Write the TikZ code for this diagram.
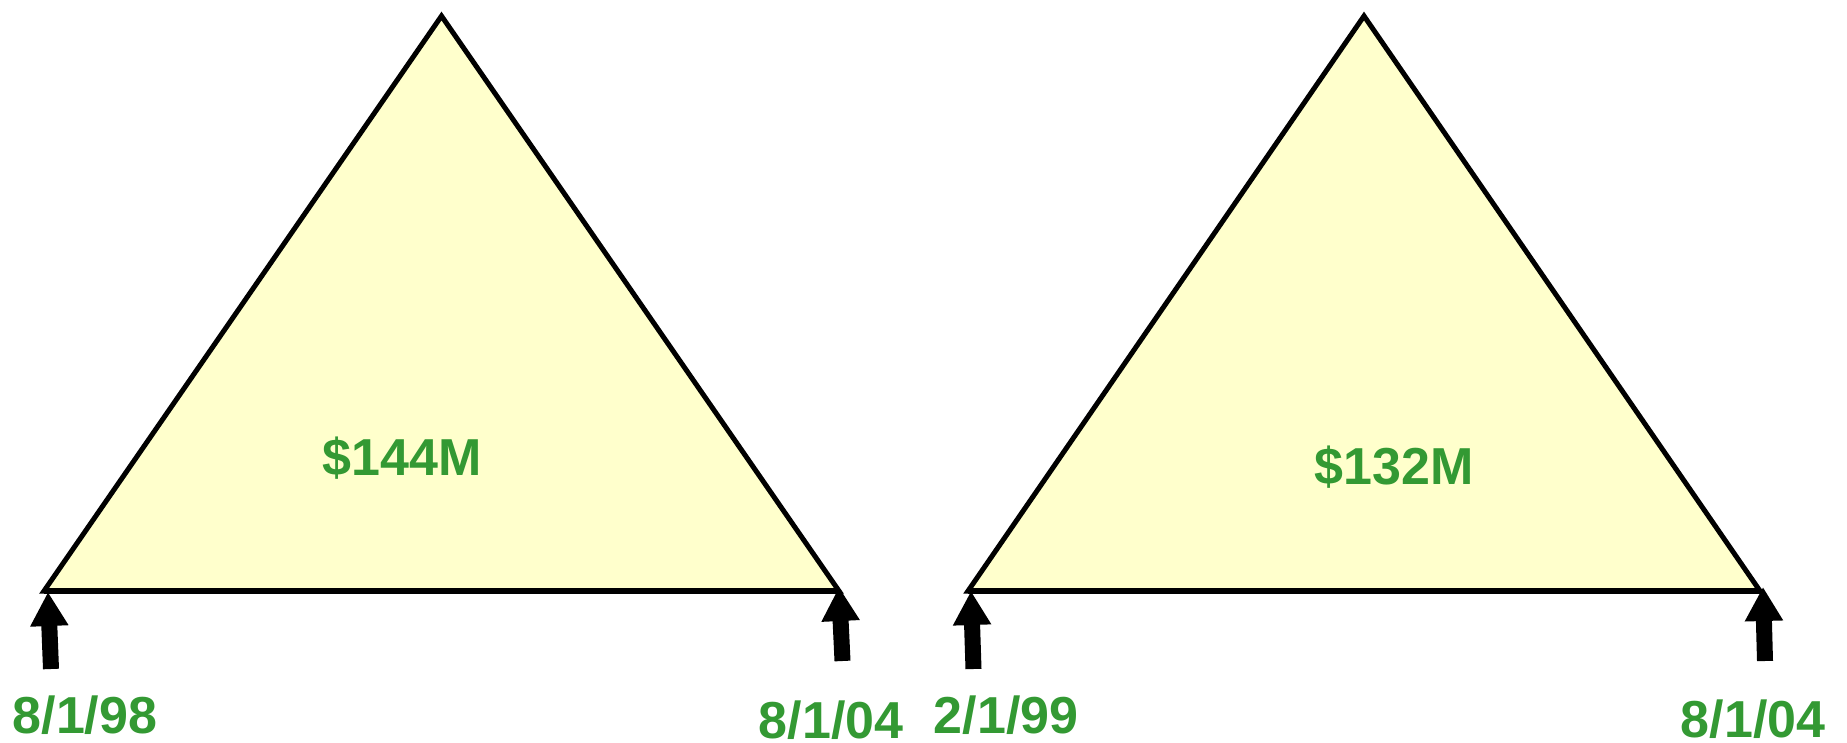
\documentclass[tikz,border=0pt]{standalone}
\usepackage{fontspec}
\setmainfont{Liberation Sans}
\usetikzlibrary{arrows.meta}
\definecolor{trifill}{HTML}{FFFFCC}
\definecolor{grn}{HTML}{339933}
\begin{document}
\begin{tikzpicture}[x=1pt,y=-1pt,
  tri/.style={fill=trifill,draw=black,line width=5pt,line join=miter},
  basel/.style={draw=black,line width=5.5pt},
  lbl/.style={text=grn,font=\fontsize{52}{60}\selectfont\bfseries,inner sep=0pt,anchor=base},
  blockarrow/.style={draw=black,line width=16pt,-{Triangle[width=36pt,length=34pt]}}]
\useasboundingbox (0,0) rectangle (1847,743);
% left triangle
\coordinate (L1) at (44,591);
\coordinate (T1) at (441.5,16);
\coordinate (R1) at (839,591);
\filldraw[tri] (L1) -- (T1) -- (R1) -- cycle;
\draw[basel] (L1) -- (R1);
% right triangle
\coordinate (L2) at (968,591);
\coordinate (T2) at (1364,16);
\coordinate (R2) at (1760,591);
\filldraw[tri] (L2) -- (T2) -- (R2) -- cycle;
\draw[basel] (L2) -- (R2);
% amounts
\node[lbl] (m1) at (402,475) {\$144M};
\node[lbl] (m2) at (1394,484) {\$132M};
% dates
\node[lbl] (d1) at (85,733) {8/1/98};
\node[lbl] (d2) at (831,738) {8/1/04};
\node[lbl] (d3) at (1006,733) {2/1/99};
\node[lbl] (d4) at (1753,737) {8/1/04};
% arrows
\coordinate (a1s) at (51,669);   \coordinate (a1e) at (48,592);
\coordinate (a2s) at (842.5,661); \coordinate (a2e) at (839,587);
\coordinate (a3s) at (973.5,669); \coordinate (a3e) at (971,591);
\coordinate (a4s) at (1765,661);  \coordinate (a4e) at (1763,587);
\draw[blockarrow] (a1s) -- (a1e);
\draw[blockarrow] (a2s) -- (a2e);
\draw[blockarrow] (a3s) -- (a3e);
\draw[blockarrow] (a4s) -- (a4e);
\end{tikzpicture}
\end{document}
